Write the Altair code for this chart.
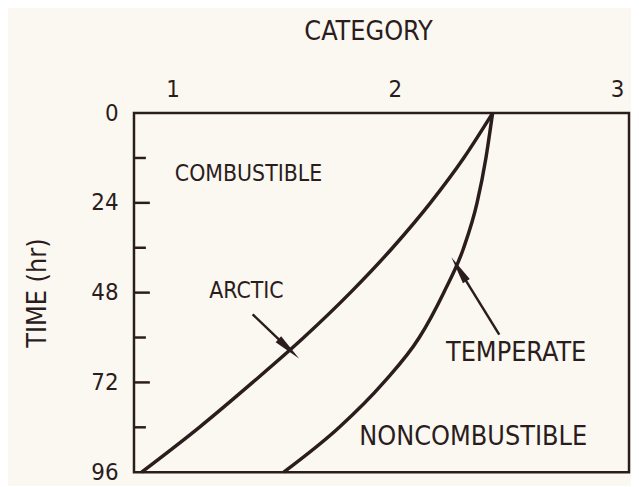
import altair as alt
import pandas as pd

# Curve data: time (hr) vs category
arctic_t = [0, 12, 24, 36, 48, 60, 72, 84, 96]
arctic_x = [2.44, 2.31, 2.16, 1.99, 1.80, 1.59, 1.36, 1.12, 0.86]

temperate_t = [0, 12, 24, 36, 48, 60, 72, 84, 96]
temperate_x = [2.44, 2.41, 2.37, 2.31, 2.22, 2.11, 1.95, 1.75, 1.50]

x_ticks = [1, 2, 3]
y_labels = [0, 24, 48, 72, 96]
y_major = [24, 48, 72]
y_minor = [12, 36, 60, 84]

label_text = ["COMBUSTIBLE", "ARCTIC"]
label_x = [1.01, 1.165]
label_t = [16.4, 47.7]

label2_text = ["TEMPERATE", "NONCOMBUSTIBLE"]
label2_x = [2.23, 1.84]
label2_t = [64.2, 86.7]

arrow_name = ["ARCTIC", "TEMPERATE"]
arrow_x_tail = [1.36, 2.47]
arrow_t_tail = [53.8, 59.2]
arrow_x_head = [1.52, 2.29]
arrow_t_head = [62.9, 41.9]

INK = "#2b1d1d"
BG = "#fbf8f1"
FONT = "DejaVu Sans Condensed, Liberation Sans Narrow, Roboto Condensed, Roboto, sans-serif"

curves = pd.DataFrame(
    {"series": ["ARCTIC"] * len(arctic_t) + ["TEMPERATE"] * len(temperate_t),
     "t": arctic_t + temperate_t,
     "x": arctic_x + temperate_x}
)
labels = pd.DataFrame({"text": label_text, "x": label_x, "t": label_t})
labels2 = pd.DataFrame({"text": label2_text, "x": label2_x, "t": label2_t})
arrows = pd.DataFrame({"name": arrow_name, "x": arrow_x_tail, "t": arrow_t_tail,
                       "x2": arrow_x_head, "t2": arrow_t_head})
major = pd.DataFrame({"t": y_major})
minor = pd.DataFrame({"t": y_minor})

xs = alt.Scale(domain=[0.826, 3.054], nice=False, zero=False)
ys = alt.Scale(domain=[0, 96], reverse=True, nice=False, zero=False)

x_axis = alt.Axis(orient="top", values=x_ticks, ticks=False, domain=False, grid=False,
                  labelFontSize=24, labelPadding=12, labelColor=INK, labelFont=FONT,
                  title="CATEGORY", titleFontSize=27, titleFontWeight="normal",
                  titleColor=INK, titleFont=FONT, titlePadding=32, titleX=236)
y_axis = alt.Axis(values=y_labels, ticks=False, domain=False, grid=False,
                  labelFontSize=24, labelPadding=16, labelColor=INK, labelFont=FONT,
                  title="TIME (hr)", titleFontSize=27, titleFontWeight="normal",
                  titleColor=INK, titleFont=FONT, titlePadding=40)

X = lambda f: alt.X(f, scale=xs, axis=x_axis, title="CATEGORY")
Y = lambda f: alt.Y(f, scale=ys, axis=y_axis, title="TIME (hr)")

lines = alt.Chart(curves).mark_line(
    color=INK, strokeWidth=3.5, interpolate="monotone"
).encode(
    x=X("x:Q"),
    y=Y("t:Q"),
    detail="series:N",
    order="t:Q",
)

major_ticks = alt.Chart(major).mark_rule(color=INK, strokeWidth=2.5).encode(
    y=Y("t:Q"), x=alt.value(0), x2=alt.value(16)
)
minor_ticks = alt.Chart(minor).mark_rule(color=INK, strokeWidth=2.5).encode(
    y=Y("t:Q"), x=alt.value(0), x2=alt.value(12)
)

texts = alt.Chart(labels).mark_text(
    align="left", baseline="middle", fontSize=23, font=FONT, color=INK
).encode(
    x=X("x:Q"),
    y=Y("t:Q"),
    text="text:N",
)
texts2 = alt.Chart(labels2).mark_text(
    align="left", baseline="middle", fontSize=27, font=FONT, color=INK
).encode(
    x=X("x:Q"),
    y=Y("t:Q"),
    text="text:N",
)

arrow_lines = alt.Chart(arrows).mark_rule(color=INK, strokeWidth=2.5).encode(
    x=X("x:Q"),
    y=Y("t:Q"),
    x2="x2:Q",
    y2="t2:Q",
)

head_shape = "M0,-1L0.27,0.9L-0.27,0.9Z"
arctic_head = alt.Chart(arrows[arrows["name"] == "ARCTIC"]).mark_point(
    shape=head_shape, filled=True, color=INK, opacity=1, size=900, angle=133
).encode(
    x=X("x2:Q"),
    y=Y("t2:Q"),
)
temperate_head = alt.Chart(arrows[arrows["name"] == "TEMPERATE"]).mark_point(
    shape=head_shape, filled=True, color=INK, opacity=1, size=900, angle=328
).encode(
    x=X("x2:Q"),
    y=Y("t2:Q"),
)

chart = alt.layer(
    lines, major_ticks, minor_ticks, texts, texts2, arrow_lines, arctic_head, temperate_head
).properties(
    width=499, height=362,
    autosize=alt.AutoSizeParams(type="none"),
    padding={"left": 127, "top": 104, "right": 2, "bottom": 12},
    background=BG,
).configure_view(
    stroke=INK, strokeWidth=2.5, fill=BG
)

chart.save("out.html", embed_options={"renderer": "svg", "actions": False})
